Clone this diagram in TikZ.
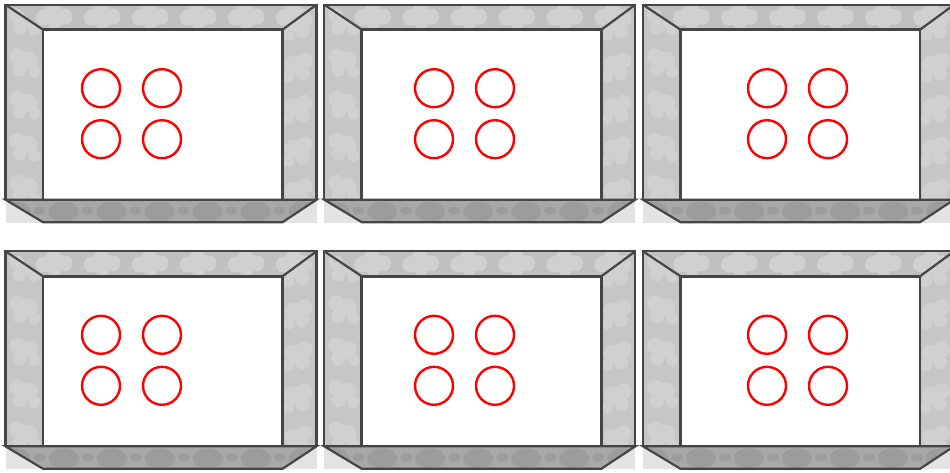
\documentclass[tikz,border=0pt]{standalone}
\definecolor{framedark}{HTML}{454545}
\definecolor{topgray}{HTML}{C0C0C0}
\definecolor{sidegray}{HTML}{C6C6C6}
\definecolor{botgray}{HTML}{A8A8A8}
\definecolor{cornergray}{HTML}{E3E3E3}
\definecolor{cloudlight}{HTML}{D0D0D0}
\definecolor{clouddark}{HTML}{9C9C9C}
\tikzset{
  frameline/.style={draw=framedark, line width=2.2pt, line join=miter},
  innerline/.style={draw=framedark, line width=2.8pt},
  ring/.style={draw=red, line width=2.4pt},
}
\newcommand\drawpanel[3]{%
 \begin{scope}[shift={(#1,#2)}]
  \fill[cornergray] (0,0) rectangle (311,218);
  % top band
  \begin{scope}
   \clip (0,0) -- (311,0) -- (277,25) -- (37.5,25) -- cycle;
   \fill[topgray] (0,0) rectangle (311,25);
   \foreach \cx in {-10,38,...,320} {
     \fill[cloudlight] (\cx,13) circle (8pt) (\cx+10,8) circle (9pt) (\cx+21,12) circle (8pt) (\cx+11,18) circle (7pt);}
  \end{scope}
  % left band
  \begin{scope}
   \clip (0,0) -- (37.5,25) -- (37.5,195) -- (0,195) -- cycle;
   \fill[sidegray] (0,0) rectangle (37.5,195);
   \foreach \cy in {10,52,...,200} {
     \fill[cloudlight] (12,\cy) circle (8pt) (23,\cy+4) circle (9pt) (14,\cy+13) circle (7pt) (29,\cy+15) circle (6pt);}
  \end{scope}
  % right band
  \begin{scope}
   \clip (311,0) -- (277,25) -- (277,195) -- (311,195) -- cycle;
   \fill[sidegray] (277,0) rectangle (311,195);
   \foreach \cy in {14,56,...,200} {
     \fill[cloudlight] (299,\cy) circle (8pt) (288,\cy+4) circle (9pt) (297,\cy+13) circle (7pt) (283,\cy+16) circle (6pt);}
  \end{scope}
  % bottom band
  \begin{scope}
   \clip (0,195) -- (311,195) -- (277,217.5) -- (37.5,217.5) -- cycle;
   \fill[botgray] (0,195) rectangle (311,218);
   \foreach \cx in {10,58,...,320} {
     \fill[clouddark] (\cx,207) ellipse (15pt and 10pt) (\cx+24,206) ellipse (6pt and 4pt);}
  \end{scope}
  % inner white field
  \fill[white] (37.5,25) rectangle (277,195);
  % outlines
  \draw[frameline] (0,195) -- (0,0) -- (311,0) -- (311,195);
  \draw[frameline] (0,0) -- (37.5,25) (311,0) -- (277,25);
  \draw[frameline] (0,195) -- (311,195) -- (277,217.5) -- (37.5,217.5) -- cycle;
  \draw[innerline] (37.5,195) -- (37.5,25) -- (277,25) -- (277,195);
  % rings
  \draw[ring] (#3,83.5) circle (19pt) (#3+61,83.5) circle (19pt)
              (#3,134.5) circle (19pt) (#3+61,134.5) circle (19pt);
 \end{scope}}
\begin{document}
\begin{tikzpicture}[x=1pt,y=-1pt]
 \useasboundingbox (0,0) rectangle (950,472);
 \clip (0,0) rectangle (950,472);
 \fill[white] (0,0) rectangle (950,472);
 \drawpanel{5.5}{4.7}{95.5}
 \drawpanel{324.3}{4.7}{109.7}
 \drawpanel{643}{4.7}{124}
 \drawpanel{5.5}{251.3}{95.5}
 \drawpanel{324.3}{251.3}{109.7}
 \drawpanel{643}{251.3}{124}
\end{tikzpicture}
\end{document}
